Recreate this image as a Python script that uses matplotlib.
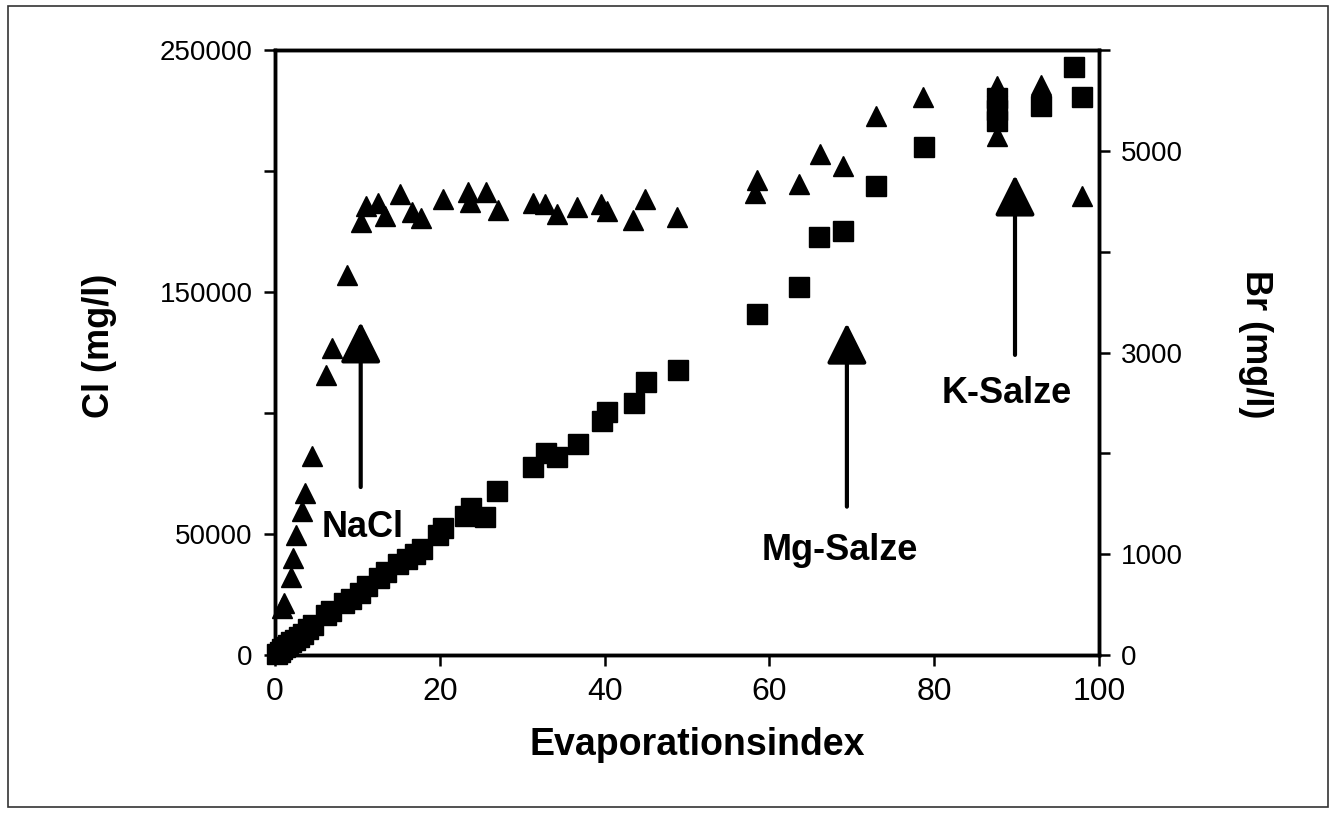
import matplotlib
matplotlib.use("Agg")
import matplotlib.pyplot as plt
from matplotlib import font_manager
from matplotlib.patches import Rectangle

# ============================================
# DATEN
# ============================================

# Cl (linke Achse, Dreiecke)
cl_x = [0.9, 1.1, 2.0, 2.2, 2.5, 3.3, 3.6, 4.45, 6.2, 6.9, 8.7,
        10.4, 11.1, 12.5, 13.35, 15.2, 16.6, 17.7, 20.4, 23.4, 23.7,
        25.6, 27.1, 31.3, 32.8, 34.2, 36.65, 39.6, 40.3, 43.45, 44.9,
        48.8, 58.2, 58.5, 63.6, 66.1, 68.9, 72.9, 78.6, 87.6, 87.6,
        93.0, 97.9]
cl_val = [19500, 21500, 32300, 40000, 49600, 59500, 67000, 82200, 115700,
          126900, 157000, 178900, 185500, 186800, 181400, 190500, 183100,
          180600, 188600, 191300, 187200, 191300, 183900, 186800, 186400,
          182300, 185100, 186400, 183500, 179700, 188600, 181000, 190800,
          196300, 194600, 207000, 202000, 222700, 230400, 235000, 214400,
          235500, 189700]

# Br (rechte Achse, Quadrate)
br_x = [0.3, 0.6, 0.9, 1.2, 1.6, 2.0, 2.4, 2.9, 3.4, 4.0, 4.6, 6.2, 6.8,
        8.4, 9.2, 10.3, 11.2, 12.6, 13.5, 14.9, 16.0, 17.0, 17.8, 19.8,
        20.4, 23.1, 23.8, 25.5, 27.0, 31.35, 32.9, 34.2, 36.8, 39.64,
        40.33, 43.57, 45.0, 48.95, 58.46, 63.6, 66.06, 68.97, 72.9, 78.7,
        87.6, 87.6, 87.6, 92.96, 96.9, 97.9]
br_val = [10, 30, 55, 75, 100, 125, 150, 180, 210, 260, 300, 400, 440,
          520, 560, 620, 680, 760, 820, 900, 950, 1000, 1050, 1190, 1260,
          1375, 1455, 1370, 1626, 1861, 2006, 1967, 2090, 2324, 2413, 2496,
          2704, 2826, 3382, 3647, 4148, 4208, 4651, 5035, 5300, 5400, 5520,
          5444, 5830, 5534]

x_ticks = [0, 20, 40, 60, 80, 100]
cl_ticks = [0, 50000, 100000, 150000, 200000, 250000]
cl_ticklabels = ["0", "50000", "", "150000", "", "250000"]
br_ticks = [0, 1000, 2000, 3000, 4000, 5000, 6000]
br_ticklabels = ["0", "1000", "", "3000", "", "5000", ""]

# Pfeile: (x, Cl unten, Cl Spitze) und Beschriftung (x, Cl Grundlinie)
arrows = [(10.4, 69400, 137600), (69.4, 61300, 137100), (89.8, 124000, 198300)]
labels = [("NaCl", 10.6, 48800), ("Mg-Salze", 68.6, 39300), ("K-Salze", 88.8, 104000)]

# ============================================
# PLOT
# ============================================

fonts = {f.name for f in font_manager.fontManager.ttflist}
narrow = "Liberation Sans Narrow" if "Liberation Sans Narrow" in fonts else "Liberation Sans"
plt.rcParams["font.family"] = ["Liberation Sans", "DejaVu Sans"]

fig = plt.figure(figsize=(13.33, 8.14), dpi=100)
ax = fig.add_axes([0.2063, 0.1953, 0.6182, 0.7433])
ax2 = ax.twinx()

ax.plot(cl_x, cl_val, linestyle="none", marker="^", ms=15, color="black", clip_on=False)
ax2.plot(br_x, br_val, linestyle="none", marker="s", ms=14, color="black", clip_on=False)

ax.set_xlim(0, 100)
ax.set_ylim(0, 250000)
ax2.set_ylim(0, 6000)

ax.set_xticks(x_ticks)
ax.set_xticklabels([str(t) for t in x_ticks], family=narrow, fontsize=23)
ax.set_yticks(cl_ticks)
ax.set_yticklabels(cl_ticklabels, fontsize=20)
ax2.set_yticks(br_ticks)
ax2.set_yticklabels(br_ticklabels, fontsize=20)

for a in (ax, ax2):
    for s in a.spines.values():
        s.set_linewidth(2.5)
    a.tick_params(direction="out", length=8, width=1.8, pad=8)

for (x, y0, y1) in arrows:
    ax.annotate("", xy=(x, y1), xytext=(x, y0),
                arrowprops=dict(arrowstyle="-|>,head_length=1.0,head_width=0.5",
                                mutation_scale=25, lw=3, color="black",
                                shrinkA=0, shrinkB=0))
for (txt, x, y) in labels:
    ax.text(x, y, txt, ha="center", va="baseline", fontsize=26, fontweight="bold")

fig.text(0.523, 0.085, "Evaporationsindex", ha="center", va="center",
         fontsize=27, fontweight="bold")
fig.text(0.075, 0.575, "Cl (mg/l)", ha="center", va="center", rotation=90,
         fontsize=26, fontweight="bold")
fig.text(0.942, 0.577, "Br (mg/l)", ha="center", va="center", rotation=-90,
         fontsize=26, fontweight="bold")

# Rahmen um die ganze Abbildung
fig.patches.append(Rectangle((0.006, 0.008), 0.99, 0.985, transform=fig.transFigure,
                             fill=False, edgecolor="#333333", lw=1.2))

fig.savefig("out.png", dpi=100)
